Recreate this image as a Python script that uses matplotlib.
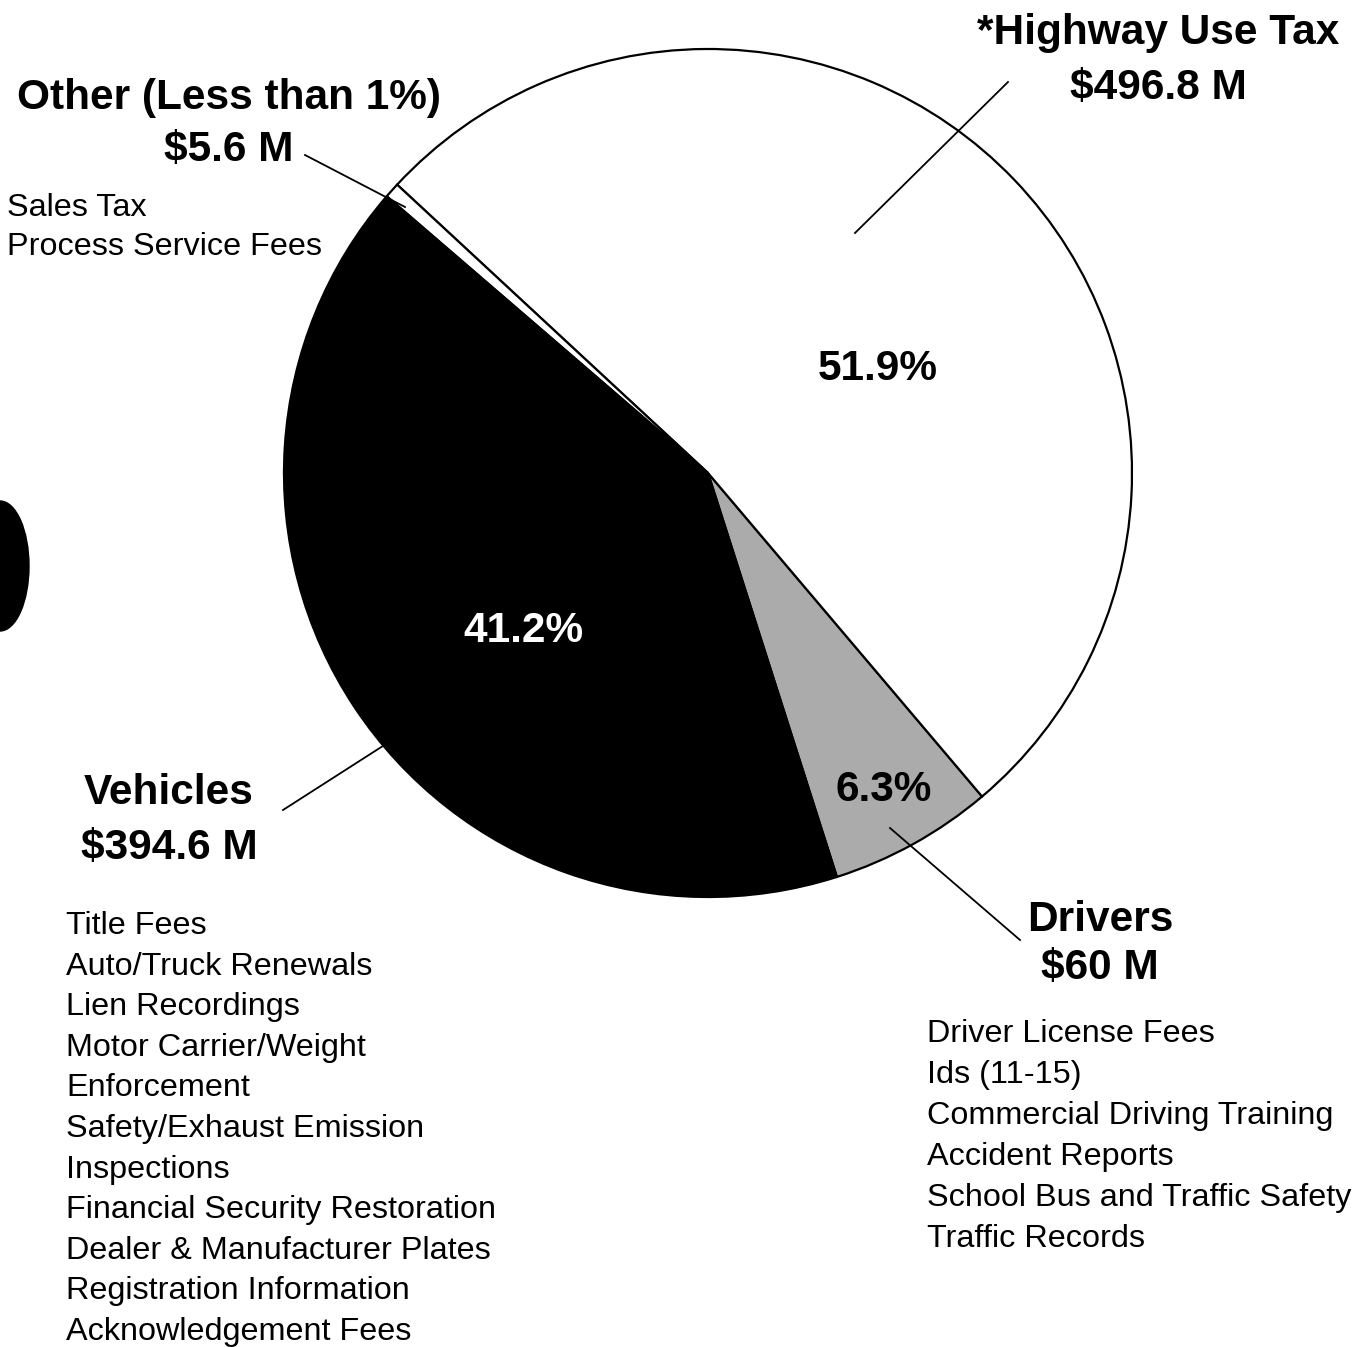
import numpy as np
import matplotlib
matplotlib.use("Agg")
import matplotlib.pyplot as plt
from matplotlib.patches import Ellipse

plt.rcParams['font.family'] = ['Liberation Sans', 'DejaVu Sans']

# =============================================================================
# data (millions of dollars)
# =============================================================================
categories = ["Drivers", "*Highway Use Tax", "Other (Less than 1%)", "Vehicles"]
values = [60.0, 496.8, 5.6, 394.6]
amount_labels = ["$60 M", "$496.8 M", "$5.6 M", "$394.6 M"]
slice_colors = ["#ababab", "white", "white", "black"]

other_items = ["Sales Tax", "Process Service Fees"]
vehicle_items = ["Title Fees", "Auto/Truck Renewals", "Lien Recordings",
                 "Motor Carrier/Weight", "Enforcement", "Safety/Exhaust Emission",
                 "Inspections", "Financial Security Restoration",
                 "Dealer & Manufacturer Plates", "Registration Information",
                 "Acknowledgement Fees"]
driver_items = ["Driver License Fees", "Ids (11-15)", "Commercial Driving Training",
                "Accident Reports", "School Bus and Traffic Safety", "Traffic Records"]

W, H = 1363, 1347
def Y(y):
    # pixel row -> data y
    return H - y

fig = plt.figure(figsize=(W / 100, H / 100), dpi=100)
ax = fig.add_axes([0, 0, 1, 1])

ax.pie(values, colors=slice_colors, startangle=-72.3, counterclock=True,
       center=(708, Y(473)), radius=424,
       wedgeprops=dict(edgecolor="black", linewidth=1.6))
ax.set_xlim(0, W)
ax.set_ylim(0, H)
ax.set_aspect("equal")
ax.axis("off")

total = sum(values)
pct = [v / total * 100 for v in values]

big = dict(fontsize=30.5, fontweight="bold", ha="center", va="center")
small = dict(fontsize=23.3, ha="left", va="center")

# percent labels
ax.text(878, Y(369), f"{pct[1]:.1f}%", color="black", **big)
ax.text(523, Y(631), f"{pct[3]:.1f}%", color="white", **big)
ax.text(884, Y(790), f"{pct[0]:.1f}%", color="black", **big)

# headings
ax.text(1158, Y(33), categories[1], **big)
ax.text(1158, Y(88), amount_labels[1], **big)
ax.text(229, Y(98), categories[2], **big)
ax.text(229, Y(150), amount_labels[2], **big)
ax.text(169, Y(793), categories[3], **big)
ax.text(169, Y(848), amount_labels[3], **big)
ax.text(1100, Y(920), categories[0], **big)
ax.text(1100, Y(968), amount_labels[0], **big)

# item lists
for i, s in enumerate(other_items):
    ax.text(7, Y(208 + i * 39), s, **small)
for i, s in enumerate(vehicle_items):
    ax.text(66, Y(926 + i * 40.6), s, **small)
for i, s in enumerate(driver_items):
    ax.text(927, Y(1034 + i * 41), s, **small)

# leader lines
lk = dict(color="black", linewidth=1.3)
ax.plot([855, 1008], [Y(233), Y(82)], **lk)
ax.plot([305, 405], [Y(155), Y(207)], **lk)
ax.plot([283, 386], [Y(810), Y(744)], **lk)
ax.plot([890, 1020], [Y(828), Y(940)], **lk)

# hole punch from the scan
ax.add_patch(Ellipse((0, Y(566)), 58, 130, color="black"))

fig.savefig("out.png", dpi=100)
